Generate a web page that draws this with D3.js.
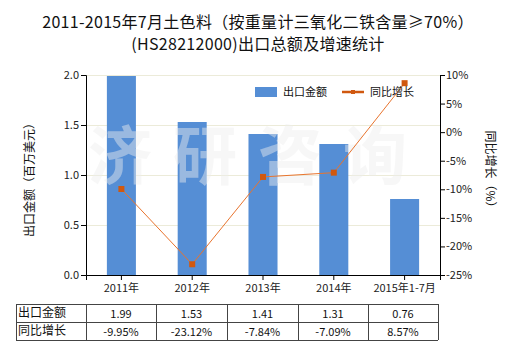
<!DOCTYPE html>
<html><head><meta charset="utf-8">
<script src="https://cdn.jsdelivr.net/npm/d3@7"></script>
<style>body{margin:0;background:#fff}svg{display:block}text{font-family:"Noto Sans CJK SC","Noto Sans",sans-serif}</style>
</head><body><svg id="c" width="520" height="350"></svg>
<script>
const categories = ["2011年","2012年","2013年","2014年","2015年1-7月"];
const exportValues = [1.99, 1.53, 1.41, 1.31, 0.76];
const growthValues = [-9.95, -23.12, -7.84, -7.09, 8.57];
const exportLabels = ["1.99","1.53","1.41","1.31","0.76"];
const growthLabels = ["-9.95%","-23.12%","-7.84%","-7.09%","8.57%"];
const leftTicks = [0, 0.5, 1.0, 1.5, 2.0];
const rightTicks = [-25, -20, -15, -10, -5, 0, 5, 10];
const titleLines = ["2011-2015年7月土色料（按重量计三氧化二铁含量≥70%）", "(HS28212000)出口总额及增速统计"];

const svg = d3.select("#c");
const L = 86, R = 440, T = 75, B = 275;
const x = d3.scaleBand().domain(categories).range([L, R]).paddingInner(0.59).paddingOuter(0.295);
const xc = d3.scaleBand().domain(categories).range([L, R]);
const yL = d3.scaleLinear().domain([0, 2]).range([B, T]);
const yR = d3.scaleLinear().domain([-25, 10]).range([B, T]);

// title
svg.selectAll("text.title").data(titleLines).join("text")
  .attr("x", 258).attr("y", (d,i)=>28 + i*22).attr("text-anchor","middle")
  .attr("font-size", 16).attr("letter-spacing", 0.3).attr("fill","#111").text(d=>d);

// gridlines
svg.append("g").selectAll("line").data(leftTicks.filter(d=>d>0)).join("line")
  .attr("x1", L).attr("x2", R).attr("y1", d=>yL(d)+0.5).attr("y2", d=>yL(d)+0.5)
  .attr("stroke", "#ecebd9").attr("stroke-width", 1);

// bars
svg.append("g").selectAll("rect").data(exportValues).join("rect")
  .attr("x", (d,i)=>x(categories[i])).attr("width", x.bandwidth())
  .attr("y", d=>yL(d)).attr("height", d=>B - yL(d)).attr("fill", "#558ed5");

// watermark
svg.append("text").attr("x", 258).attr("y", 179).attr("text-anchor","middle")
  .attr("font-size", 64).attr("font-weight","bold").attr("letter-spacing", 21)
  .attr("fill", "#eeeeee").attr("opacity", 0.45).text("济研咨询");

// line
const line = d3.line().x((d,i)=>xc(categories[i]) + xc.bandwidth()/2).y(d=>yR(d));
svg.append("path").datum(growthValues).attr("d", line).attr("fill","none")
  .attr("stroke","#e8742e").attr("stroke-width",1);
svg.append("g").selectAll("rect").data(growthValues).join("rect")
  .attr("x", (d,i)=>xc(categories[i]) + xc.bandwidth()/2 - 3).attr("y", d=>yR(d)-3)
  .attr("width", 6).attr("height", 6).attr("fill", "#d0580f");

// axes
const axL = svg.append("g").attr("transform", `translate(${L},0)`)
  .call(d3.axisLeft(yL).tickValues(leftTicks).tickFormat(d3.format(".1f")).tickSizeOuter(0).tickSize(5));
const axR = svg.append("g").attr("transform", `translate(${R},0)`)
  .call(d3.axisRight(yR).tickValues(rightTicks).tickFormat(d=>d+"%").tickSizeOuter(0).tickSize(5));
const axB = svg.append("g").attr("transform", `translate(0,${B})`)
  .call(d3.axisBottom(xc).tickSizeOuter(0).tickSize(5));
[axL, axR, axB].forEach(a=>{
  a.select(".domain").attr("stroke","#000");
  a.selectAll(".tick line").attr("stroke","#000");
  a.selectAll("text").attr("font-size", 11).attr("fill","#222")
    .style("font-family", '"Noto Sans CJK SC",sans-serif');
});
axL.selectAll("text").attr("x", -7);
axR.selectAll("text").attr("x", 6);
axB.selectAll("text").attr("y", 9);

// axis titles
svg.append("text").attr("transform","translate(34,177) rotate(-90)").attr("text-anchor","middle")
  .attr("font-size", 12).attr("fill","#111").text("出口金额（百万美元）");
svg.append("text").attr("transform","translate(486,172) rotate(90)").attr("text-anchor","middle")
  .attr("font-size", 12).attr("fill","#111").text("同比增长（%）");

// legend
svg.append("rect").attr("x",255).attr("y",87).attr("width",22).attr("height",10).attr("fill","#558ed5");
svg.append("text").attr("x",283).attr("y",96).attr("font-size",11).attr("fill","#111").text("出口金额");
svg.append("line").attr("x1",342).attr("x2",364).attr("y1",92).attr("y2",92).attr("stroke","#d0580f").attr("stroke-width",2.5);
svg.append("rect").attr("x",351).attr("y",90).attr("width",4).attr("height",4).attr("fill","#d0580f");
svg.append("text").attr("x",370).attr("y",96).attr("font-size",11).attr("fill","#111").text("同比增长");

// table
const tL = 16, tR = 438, rows = [304, 322, 340];
const tg = svg.append("g").attr("stroke","#444").attr("stroke-width",1).attr("shape-rendering","crispEdges");
rows.forEach(y=>tg.append("line").attr("x1",tL).attr("x2",tR).attr("y1",y).attr("y2",y));
const vx = [16, 86, 156, 227, 298, 368, 438];
vx.forEach(xx=>tg.append("line").attr("x1",xx).attr("x2",xx).attr("y1",rows[0]).attr("y2",rows[2]));
const rowLabels = ["出口金额","同比增长"];
[exportLabels, growthLabels].forEach((vals, r)=>{
  svg.append("text").attr("x",18).attr("y",rows[r]+13).attr("font-size",12).attr("fill","#111").text(rowLabels[r]);
  svg.append("g").selectAll("text").data(vals).join("text")
    .attr("x",(d,i)=>(vx[i+1]+vx[i+2])/2).attr("y",rows[r]+14).attr("text-anchor","middle")
    .attr("font-size",11).attr("fill","#111").text(d=>d);
});
</script></body></html>
